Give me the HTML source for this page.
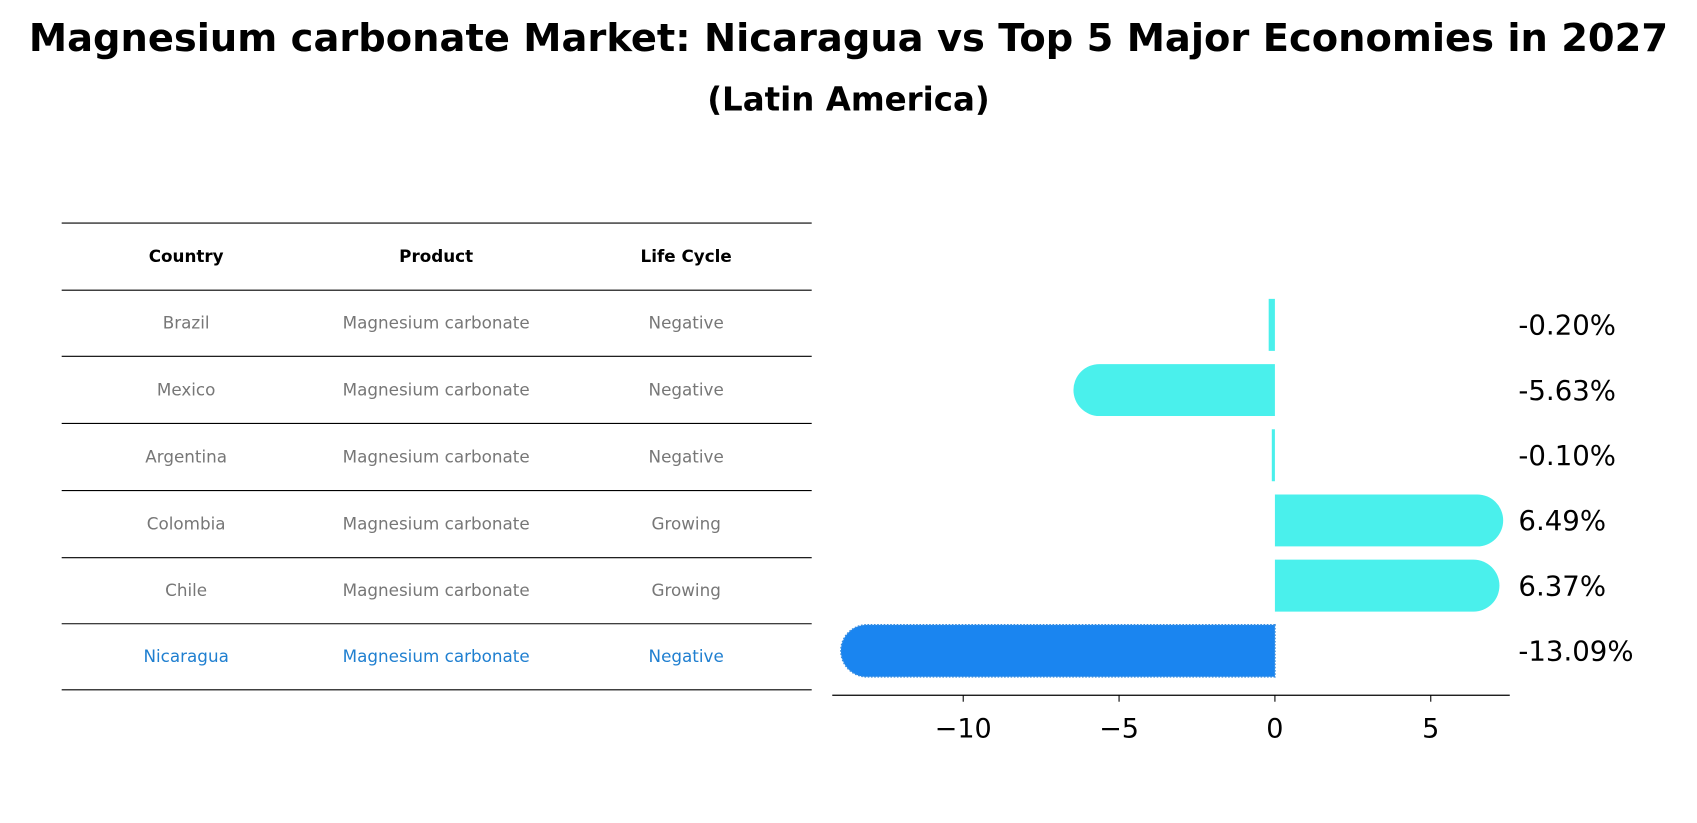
<!DOCTYPE html>
<html><head><meta charset="utf-8">
<style>html,body{margin:0;padding:0;background:#fff;}svg{display:block;font-family:"DejaVu Sans","Liberation Sans",sans-serif;}</style>
</head><body>
<svg id="chart" width="1697" height="823" viewBox="0 0 1568 760" preserveAspectRatio="none" xmlns="http://www.w3.org/2000/svg">
<text x="784" y="47" text-anchor="middle" font-size="35.5" font-weight="bold">Magnesium carbonate Market: Nicaragua vs Top 5 Major Economies in 2027</text>
<text x="784" y="102" text-anchor="middle" font-size="30" font-weight="bold">(Latin America)</text>
<g id="table"></g>
<g id="bars"></g>
</svg>
<script>
const countries = ["Brazil","Mexico","Argentina","Colombia","Chile","Nicaragua"];
const products = ["Magnesium carbonate","Magnesium carbonate","Magnesium carbonate","Magnesium carbonate","Magnesium carbonate","Magnesium carbonate"];
const lifeCycles = ["Negative","Negative","Negative","Growing","Growing","Negative"];
const values = [-0.20,-5.63,-0.10,6.49,6.37,-13.09];
const valueLabels = ["-0.20%","-5.63%","-0.10%","6.49%","6.37%","-13.09%"];
const ticks = [-10,-5,0,5];
const tickLabels = ["\u221210","\u22125","0","5"];

const NS="http://www.w3.org/2000/svg";
function mk(tag,attrs,parent){const e=document.createElementNS(NS,tag);for(const k in attrs)e.setAttribute(k,attrs[k]);parent.appendChild(e);return e;}

const tg=document.getElementById('table');
const lineYs=[206,268,329,391,453,515,576,637];
lineYs.forEach(y=>{const l=mk('line',{x1:57,x2:750,y1:y,y2:y,stroke:'#000','stroke-width':1},tg);

});
const colX=[172,403,634];
["Country","Product","Life Cycle"].forEach((h,i)=>{const t=mk('text',{x:colX[i],y:242,'text-anchor':'middle','font-size':15.5,'font-weight':'bold'},tg);t.textContent=h;

});
countries.forEach((c,r)=>{
  const y=(lineYs[r+1]+lineYs[r+2])/2+5;
  const col=c==="Nicaragua"?"#1f7fd0":"#777";
  [c,products[r],lifeCycles[r]].forEach((v,i)=>{const t=mk('text',{x:colX[i],y:y,'text-anchor':'middle','font-size':15.5,fill:col},tg);t.textContent=v;
  
  });
});

const bg=document.getElementById('bars');
const x0=1178, ppu=28.8;
const xs=v=>x0+v*ppu;
const yc=i=>300+i*60.2;
const bh=48, rr=24;
values.forEach((v,i)=>{
  const xe=xs(v), top=yc(i)-bh/2, bot=yc(i)+bh/2;
  const w=Math.abs(xe-x0);
  let d;
  if(w<=rr){d=`M${x0},${top}H${xe}V${bot}H${x0}Z`;}
  else if(v<0){d=`M${x0},${top}H${xe}A${rr},${rr} 0 0 0 ${xe},${bot}H${x0}Z`;}
  else {d=`M${x0},${top}H${xe}A${rr},${rr} 0 0 1 ${xe},${bot}H${x0}Z`;}
  const isN=countries[i]==="Nicaragua";
  const p=mk('path',{d:d,fill:isN?'#1a85f0':'#4af0ec'},bg);
  if(isN){p.setAttribute('stroke','#3a8ee0');p.setAttribute('stroke-dasharray','1.5 1.5');p.setAttribute('stroke-width','1.5');}
  
  
  const t=mk('text',{x:1403,y:yc(i)+9,'font-size':25.5},bg);t.textContent=valueLabels[i];
  
  
});
const ax=mk('line',{x1:769,x2:1395,y1:642,y2:642,stroke:'#000','stroke-width':1.2},bg);


ticks.forEach((tv,i)=>{
  const l=mk('line',{x1:xs(tv),x2:xs(tv),y1:642,y2:648,stroke:'#000','stroke-width':1},bg);
  
  
  const t=mk('text',{x:xs(tv),y:681,'text-anchor':'middle','font-size':25},bg);t.textContent=tickLabels[i];
  
  
});
</script>
</body></html>
